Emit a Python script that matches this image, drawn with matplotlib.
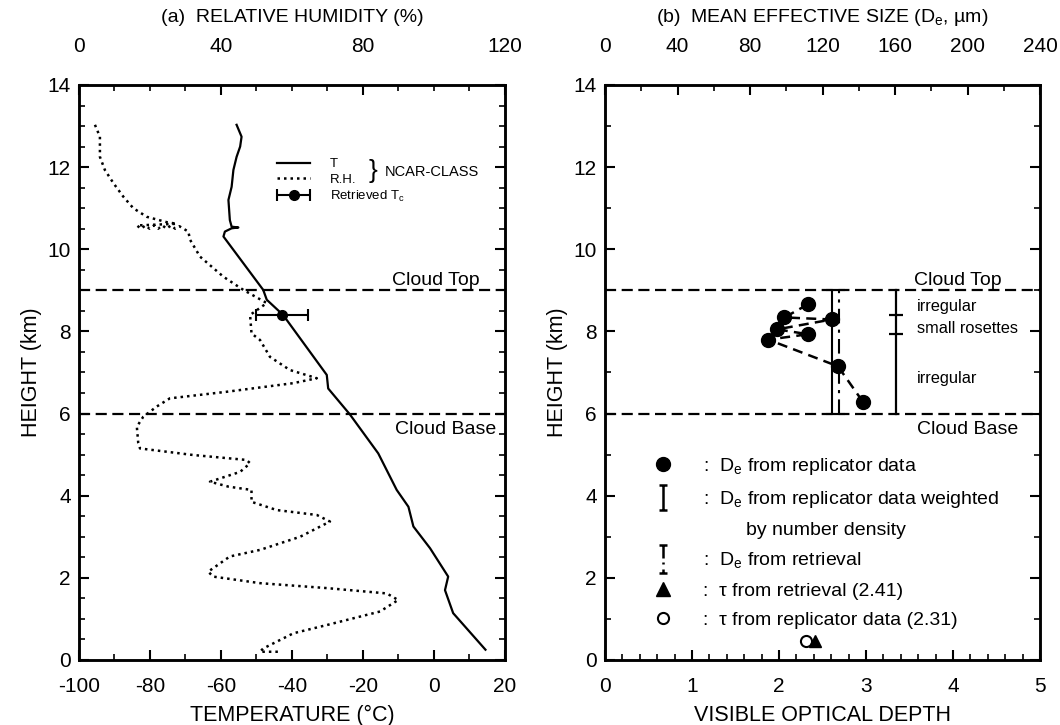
import matplotlib
matplotlib.use('Agg')
import matplotlib.pyplot as plt
from matplotlib.lines import Line2D
from matplotlib.path import Path
from matplotlib.ticker import MultipleLocator
from matplotlib.container import ErrorbarContainer
from matplotlib.legend_handler import HandlerErrorbar

plt.rcParams['font.family'] = ['Liberation Sans', 'DejaVu Sans']
plt.rcParams['mathtext.default'] = 'regular'
plt.rcParams['axes.unicode_minus'] = False

# NCAR-CLASS sounding: temperature (deg C) vs height (km)
t_height = [0.25, 1.14, 1.70, 2.03, 2.72, 3.25, 3.73, 4.14, 5.03, 5.98, 6.61, 6.94,
            8.40, 8.77, 9.01, 10.31, 10.43, 10.51, 10.53, 10.55, 10.71, 11.20, 11.52,
            11.93, 12.25, 12.50, 12.74, 13.03]
t_temp = [14.5, 5.4, 3.1, 4.0, -1.1, -5.8, -7.2, -10.5, -15.7, -23.7, -29.8, -30.2,
          -42.5, -47.1, -48.1, -59.3, -58.9, -57.0, -55.1, -57.0, -57.5, -57.9, -57.0,
          -56.5, -55.6, -54.6, -54.2, -55.6]

# relative humidity (%) vs height (km)
rh_height = [13.03, 12.74, 12.25, 11.93, 11.61, 11.28, 11.00, 10.79, 10.66, 10.62,
             10.58, 10.50, 10.58, 10.50, 10.58, 10.50, 10.58, 10.50, 10.58, 10.50, 10.56,
             10.43, 10.23, 9.82, 9.33, 9.01, 8.69, 8.40, 7.95, 7.79, 7.38, 7.06, 6.86,
             6.74, 6.53, 6.37, 6.17, 5.92, 5.68, 5.28, 5.15, 4.99, 4.87, 4.79, 4.58,
             4.34, 4.22, 4.14, 3.85, 3.65, 3.53, 3.37, 3.00, 2.68, 2.52, 2.35, 2.15,
             2.03, 1.87, 1.75, 1.62, 1.46, 1.18, 0.85, 0.65, 0.28, 0.20, 0.20]
rh_value = [4.5, 5.9, 5.9, 7.3, 9.7, 12.5, 15.3, 19.1, 24.7, 27.5,
            16.3, 17.5, 18.7, 19.9, 21.1, 22.3, 23.5, 24.7, 25.9, 27.1, 28.3,
            30.8, 31.3, 34.1, 40.7, 46.3, 52.9, 48.2, 48.6, 51.0, 53.8, 59.4, 67.0,
            60.4, 41.6, 25.6, 21.9, 18.1, 16.3, 16.7, 17.2, 32.2, 47.2, 48.2, 45.4,
            36.9, 42.1, 48.6, 48.6, 55.7, 67.0, 70.7, 62.3, 51.0, 42.5, 39.7, 36.4,
            37.8, 51.0, 69.8, 86.7, 89.9, 84.8, 69.8, 60.4, 51.9, 51.0, 56.6]

# retrieved cloud temperature
tc_height = 8.41
tc_temp = -42.8
tc_err = 7.2

cloud_top = 9.0
cloud_base = 6.0

# replicator mean effective size (um) vs height (km)
de_height = [8.66, 8.34, 8.29, 8.05, 7.93, 7.80, 7.15, 6.27]
de_size = [112.0, 99.0, 125.0, 95.0, 112.0, 90.0, 128.5, 142.5]
de_weighted = 125.0
de_retrieved = 129.0

tau_retrieved = 2.41
tau_replicator = 2.31

habit_bounds = [9.0, 8.41, 7.93, 6.0]
habit_names = ['irregular', 'small rosettes', 'irregular']

fig = plt.figure(figsize=(10.6, 7.25), dpi=100)
ax1 = fig.add_axes([0.0745, 0.0897, 0.4019, 0.7931])
ax1t = ax1.twiny()
ax2 = fig.add_axes([0.5708, 0.0897, 0.4104, 0.7931])
ax2t = ax2.twiny()

dash = (0, (5, 2.5))

# ---- (a) temperature / humidity
h_t, = ax1.plot(t_temp, t_height, color='k', lw=1.6)
h_rh, = ax1t.plot(rh_value, rh_height, color='k', lw=1.8, ls=(0, (1, 1.6)))
eb = ax1.errorbar([tc_temp], [tc_height], xerr=[tc_err], fmt='o', color='k', ms=7,
                  capsize=4, elinewidth=1.5, capthick=1.5)
for ax in (ax1, ax2):
    ax.axhline(cloud_top, color='k', lw=1.6, ls=dash)
    ax.axhline(cloud_base, color='k', lw=1.6, ls=dash)

ax1.text(-11.8, 9.13, 'Cloud Top', fontsize=14, va='baseline')
ax1.text(-11.0, 5.50, 'Cloud Base', fontsize=14, va='baseline')

ax1.legend([h_t, h_rh, eb], ['T', 'R.H.', 'Retrieved T$_c$'], loc='upper left',
           bbox_to_anchor=(0.465, 0.873), frameon=False, fontsize=9.5,
           handlelength=2.5, handletextpad=1.5, labelspacing=0.25,
           borderpad=0, borderaxespad=0,
           handler_map={ErrorbarContainer: HandlerErrorbar(xerr_size=1.25)})
ax1.text(0.69, 0.851, '}', transform=ax1.transAxes, fontsize=19, ha='center', va='center')
ax1.text(0.718, 0.849, 'NCAR-CLASS', transform=ax1.transAxes, fontsize=10.5, va='center')

ax1.set_xlim(-100, 20)
ax1t.set_xlim(0, 120)
ax1.set_ylim(0, 14)
ax1.xaxis.set_major_locator(MultipleLocator(20))
ax1.xaxis.set_minor_locator(MultipleLocator(10))
ax1t.xaxis.set_major_locator(MultipleLocator(40))
ax1t.xaxis.set_minor_locator(MultipleLocator(10))
ax1.yaxis.set_major_locator(MultipleLocator(2))
ax1.yaxis.set_minor_locator(MultipleLocator(0.5))
ax1.set_xlabel('TEMPERATURE (°C)', fontsize=15.5, labelpad=7)
ax1t.set_xlabel('(a)  RELATIVE HUMIDITY (%)', fontsize=14, labelpad=11)
ax1.set_ylabel('HEIGHT (km)', fontsize=15.5, labelpad=4)

# ---- (b) effective size / optical depth
ax2t.plot(de_size, de_height, color='k', lw=1.8, ls=(0, (4, 2.5)),
          marker='o', ms=10, zorder=4)
e1 = ax2t.errorbar([de_weighted], [(cloud_top + cloud_base) / 2],
                   yerr=[(cloud_top - cloud_base) / 2], fmt='none', ecolor='k',
                   elinewidth=1.5, capsize=4, capthick=1.5)
e2 = ax2t.errorbar([de_retrieved], [(cloud_top + cloud_base) / 2],
                   yerr=[(cloud_top - cloud_base) / 2], fmt='none', ecolor='k',
                   elinewidth=1.5, capsize=4, capthick=1.5)
e2[2][0].set_linestyle((0, (7, 3, 1.5, 3)))

habit_x = 160.5
ax2t.plot([habit_x, habit_x], [habit_bounds[0], habit_bounds[-1]], color='k', lw=1.6)
ax2t.plot([habit_x] * 2, habit_bounds[1:3], ls='none', marker='_', ms=10,
          mew=1.6, color='k')
for top, bot, name in zip(habit_bounds[:-1], habit_bounds[1:], habit_names):
    ax2t.text(172, (top + bot) / 2 - 0.1, name, fontsize=11.8, va='center')

ax2t.text(170.5, 9.13, 'Cloud Top', fontsize=14, va='baseline')
ax2t.text(172, 5.50, 'Cloud Base', fontsize=14, va='baseline')

ax2.plot([tau_replicator], [0.45], 'o', mfc='white', mec='k', mew=1.5, ms=8)
ax2.plot([tau_retrieved], [0.45], '^', color='k', ms=9)

M, L = Path.MOVETO, Path.LINETO
ibeam = Path([(-0.3, 1), (0.3, 1), (0, 1), (0, -1), (-0.3, -1), (0.3, -1)],
             [M, L, M, L, M, L])
ibeam_dd = Path([(-0.3, 1), (0.3, 1), (0, 1), (0, 0.1), (0, -0.2), (0, -0.38),
                 (0, -0.7), (0, -1), (-0.3, -1), (0.3, -1)],
                [M, L, M, L, M, L, M, L, M, L])

handles = [
    Line2D([], [], ls='none', marker='o', ms=10, color='k'),
    Line2D([], [], ls='none', marker=ibeam, ms=18, mew=1.8, mfc='none', color='k'),
    Line2D([], [], ls='none'),
    Line2D([], [], ls='none', marker=ibeam_dd, ms=20, mew=1.8, mfc='none', color='k'),
    Line2D([], [], ls='none', marker='^', ms=10, color='k'),
    Line2D([], [], ls='none', marker='o', ms=8, mfc='white', mec='k', mew=1.5),
]
labels = [
    ':  D$_e$ from replicator data',
    ':  D$_e$ from replicator data weighted',
    '        by number density',
    ':  D$_e$ from retrieval',
    f':  τ from retrieval ({tau_retrieved:.2f})',
    f':  τ from replicator data ({tau_replicator:.2f})',
]
ax2.legend(handles, labels, loc='upper left', bbox_to_anchor=(0.0885, 0.355),
           frameon=False, fontsize=14, handlelength=2, handletextpad=1.06,
           labelspacing=0.6, borderpad=0, borderaxespad=0)

ax2.set_xlim(0, 5)
ax2t.set_xlim(0, 240)
ax2.set_ylim(0, 14)
ax2.xaxis.set_major_locator(MultipleLocator(1))
ax2.xaxis.set_minor_locator(MultipleLocator(0.2))
ax2t.xaxis.set_major_locator(MultipleLocator(40))
ax2t.xaxis.set_minor_locator(MultipleLocator(20))
ax2.yaxis.set_major_locator(MultipleLocator(2))
ax2.yaxis.set_minor_locator(MultipleLocator(1))
ax2.set_xlabel('VISIBLE OPTICAL DEPTH', fontsize=15.5, labelpad=7)
ax2t.set_xlabel('(b)  MEAN EFFECTIVE SIZE (D$_e$, µm)', fontsize=14, labelpad=11)
ax2.set_ylabel('HEIGHT (km)', fontsize=15.5, labelpad=4)

# inward ticks on all four sides
for ax in (ax1, ax2):
    ax.tick_params(which='both', direction='in', left=True, right=True,
                   bottom=True, top=False, labelsize=15)
    ax.tick_params(axis='x', pad=12)
    ax.tick_params(axis='y', pad=6)
    ax.tick_params(which='major', length=7, width=1.5)
    ax.tick_params(which='minor', length=4, width=1.2)
for ax in (ax1t, ax2t):
    ax.tick_params(which='both', direction='in', top=True, bottom=False,
                   labelsize=15, pad=21)
    ax.tick_params(which='major', length=7, width=1.5)
    ax.tick_params(which='minor', length=4, width=1.2)
for ax in (ax1, ax1t, ax2, ax2t):
    for s in ax.spines.values():
        s.set_linewidth(1.8)

fig.savefig('out.png', dpi=100)
